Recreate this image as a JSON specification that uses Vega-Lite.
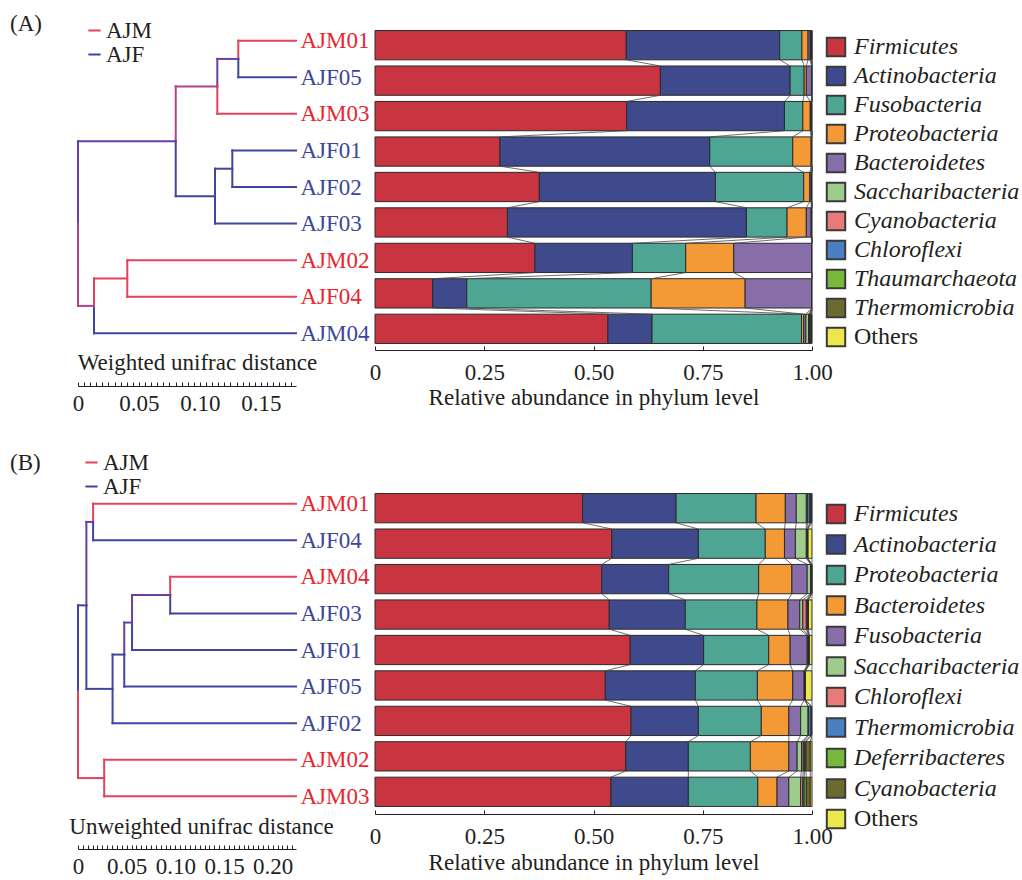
{
  "$schema": "https://vega.github.io/schema/vega-lite/v6.json",
  "padding": {"left": 10, "top": 13, "right": 2, "bottom": 2},
  "background": "white",
  "config": {
    "font": "Liberation Serif",
    "view": {"stroke": null},
    "axis": {"labelFont": "Liberation Serif", "titleFont": "Liberation Serif", "labelFontSize": 23, "titleFontSize": 23, "titleFontWeight": "normal", "labelColor": "#231f20", "titleColor": "#231f20", "domainColor": "#231f20", "tickColor": "#231f20", "grid": false},
    "legend": {"labelFont": "Liberation Serif", "labelFontSize": 23, "labelColor": "#231f20"},
    "title": {"font": "Liberation Serif", "fontSize": 23, "fontWeight": "normal", "color": "#231f20"}
  },
  "datasets": {
    "abundA": [
      {"sample":"AJM01","order":0,"Firmicutes":0.575,"Actinobacteria":0.351,"Fusobacteria":0.051,"Proteobacteria":0.014,"Bacteroidetes":0.005,"Saccharibacteria":0.001,"Cyanobacteria":0.001,"Chloroflexi":0.001,"Thaumarchaeota":0.0005,"Thermomicrobia":0.0005,"Others":0},
      {"sample":"AJF05","order":1,"Firmicutes":0.653,"Actinobacteria":0.297,"Fusobacteria":0.032,"Proteobacteria":0.005,"Bacteroidetes":0.012,"Saccharibacteria":0.0005,"Cyanobacteria":0.0005,"Chloroflexi":0,"Thaumarchaeota":0,"Thermomicrobia":0,"Others":0},
      {"sample":"AJM03","order":2,"Firmicutes":0.576,"Actinobacteria":0.361,"Fusobacteria":0.042,"Proteobacteria":0.017,"Bacteroidetes":0.002,"Saccharibacteria":0.001,"Cyanobacteria":0.001,"Chloroflexi":0,"Thaumarchaeota":0,"Thermomicrobia":0,"Others":0},
      {"sample":"AJF01","order":3,"Firmicutes":0.286,"Actinobacteria":0.480,"Fusobacteria":0.190,"Proteobacteria":0.042,"Bacteroidetes":0.001,"Saccharibacteria":0.001,"Cyanobacteria":0,"Chloroflexi":0,"Thaumarchaeota":0,"Thermomicrobia":0,"Others":0},
      {"sample":"AJF02","order":4,"Firmicutes":0.376,"Actinobacteria":0.403,"Fusobacteria":0.202,"Proteobacteria":0.014,"Bacteroidetes":0.003,"Saccharibacteria":0.001,"Cyanobacteria":0.001,"Chloroflexi":0,"Thaumarchaeota":0,"Thermomicrobia":0,"Others":0},
      {"sample":"AJF03","order":5,"Firmicutes":0.303,"Actinobacteria":0.547,"Fusobacteria":0.093,"Proteobacteria":0.044,"Bacteroidetes":0.011,"Saccharibacteria":0.001,"Cyanobacteria":0.001,"Chloroflexi":0,"Thaumarchaeota":0,"Thermomicrobia":0,"Others":0},
      {"sample":"AJM02","order":6,"Firmicutes":0.366,"Actinobacteria":0.223,"Fusobacteria":0.122,"Proteobacteria":0.110,"Bacteroidetes":0.178,"Saccharibacteria":0.001,"Cyanobacteria":0,"Chloroflexi":0,"Thaumarchaeota":0,"Thermomicrobia":0,"Others":0},
      {"sample":"AJF04","order":7,"Firmicutes":0.132,"Actinobacteria":0.078,"Fusobacteria":0.422,"Proteobacteria":0.215,"Bacteroidetes":0.152,"Saccharibacteria":0.001,"Cyanobacteria":0,"Chloroflexi":0,"Thaumarchaeota":0,"Thermomicrobia":0,"Others":0},
      {"sample":"AJM04","order":8,"Firmicutes":0.533,"Actinobacteria":0.101,"Fusobacteria":0.342,"Proteobacteria":0.005,"Bacteroidetes":0.005,"Saccharibacteria":0.006,"Cyanobacteria":0.002,"Chloroflexi":0.002,"Thaumarchaeota":0.002,"Thermomicrobia":0.001,"Others":0.001}
    ],
    "abundB": [
      {"sample":"AJM01","order":0,"Firmicutes":0.475,"Actinobacteria":0.214,"Proteobacteria":0.183,"Bacteroidetes":0.067,"Fusobacteria":0.025,"Saccharibacteria":0.023,"Chloroflexi":0.003,"Thermomicrobia":0.005,"Deferribacteres":0.002,"Cyanobacteria":0.002,"Others":0.001},
      {"sample":"AJF04","order":1,"Firmicutes":0.542,"Actinobacteria":0.198,"Proteobacteria":0.153,"Bacteroidetes":0.044,"Fusobacteria":0.025,"Saccharibacteria":0.025,"Chloroflexi":0.001,"Thermomicrobia":0.001,"Deferribacteres":0.001,"Cyanobacteria":0.001,"Others":0.009},
      {"sample":"AJM04","order":2,"Firmicutes":0.519,"Actinobacteria":0.153,"Proteobacteria":0.206,"Bacteroidetes":0.076,"Fusobacteria":0.035,"Saccharibacteria":0.008,"Chloroflexi":0.001,"Thermomicrobia":0.001,"Deferribacteres":0.0005,"Cyanobacteria":0.0005,"Others":0},
      {"sample":"AJF03","order":3,"Firmicutes":0.536,"Actinobacteria":0.174,"Proteobacteria":0.164,"Bacteroidetes":0.071,"Fusobacteria":0.027,"Saccharibacteria":0.007,"Chloroflexi":0.008,"Thermomicrobia":0.002,"Deferribacteres":0.001,"Cyanobacteria":0.002,"Others":0.008},
      {"sample":"AJF01","order":4,"Firmicutes":0.584,"Actinobacteria":0.168,"Proteobacteria":0.149,"Bacteroidetes":0.049,"Fusobacteria":0.039,"Saccharibacteria":0.002,"Chloroflexi":0.001,"Thermomicrobia":0.001,"Deferribacteres":0.0005,"Cyanobacteria":0.0005,"Others":0.006},
      {"sample":"AJF05","order":5,"Firmicutes":0.527,"Actinobacteria":0.206,"Proteobacteria":0.142,"Bacteroidetes":0.081,"Fusobacteria":0.026,"Saccharibacteria":0.001,"Chloroflexi":0.0005,"Thermomicrobia":0.0005,"Deferribacteres":0.0005,"Cyanobacteria":0.0005,"Others":0.015},
      {"sample":"AJF02","order":6,"Firmicutes":0.586,"Actinobacteria":0.154,"Proteobacteria":0.144,"Bacteroidetes":0.063,"Fusobacteria":0.027,"Saccharibacteria":0.017,"Chloroflexi":0.001,"Thermomicrobia":0.006,"Deferribacteres":0.0005,"Cyanobacteria":0.0005,"Others":0.001},
      {"sample":"AJM02","order":7,"Firmicutes":0.574,"Actinobacteria":0.143,"Proteobacteria":0.142,"Bacteroidetes":0.088,"Fusobacteria":0.019,"Saccharibacteria":0.010,"Chloroflexi":0.004,"Thermomicrobia":0.003,"Deferribacteres":0.003,"Cyanobacteria":0.010,"Others":0.004},
      {"sample":"AJM03","order":8,"Firmicutes":0.540,"Actinobacteria":0.177,"Proteobacteria":0.159,"Bacteroidetes":0.044,"Fusobacteria":0.027,"Saccharibacteria":0.027,"Chloroflexi":0.005,"Thermomicrobia":0.003,"Deferribacteres":0.005,"Cyanobacteria":0.009,"Others":0.004}
    ],
    "treeA": [
      {"d0":0.1314,"d1":0.1787,"p0":0,"p1":0,"group":"AJM"},
      {"d0":0.1314,"d1":0.1787,"p0":1,"p1":1,"group":"AJF"},
      {"d0":0.1142,"d1":0.1787,"p0":2,"p1":2,"group":"AJM"},
      {"d0":0.1265,"d1":0.1787,"p0":3,"p1":3,"group":"AJF"},
      {"d0":0.1265,"d1":0.1787,"p0":4,"p1":4,"group":"AJF"},
      {"d0":0.1123,"d1":0.1787,"p0":5,"p1":5,"group":"AJF"},
      {"d0":0.0404,"d1":0.1787,"p0":6,"p1":6,"group":"AJM"},
      {"d0":0.0404,"d1":0.1787,"p0":7,"p1":7,"group":"AJM"},
      {"d0":0.0131,"d1":0.1787,"p0":8,"p1":8,"group":"AJF"},
      {"d0":0.1314,"d1":0.1314,"p0":0,"p1":0.5,"group":"AJM"},
      {"d0":0.1314,"d1":0.1314,"p0":0.5,"p1":1,"group":"AJF"},
      {"d0":0.1142,"d1":0.1314,"p0":0.5,"p1":0.5,"group":"mixB"},
      {"d0":0.1142,"d1":0.1142,"p0":0.5,"p1":1.25,"group":"mixB"},
      {"d0":0.1142,"d1":0.1142,"p0":1.25,"p1":2,"group":"AJM"},
      {"d0":0.1265,"d1":0.1265,"p0":3,"p1":4,"group":"AJF"},
      {"d0":0.1123,"d1":0.1265,"p0":3.5,"p1":3.5,"group":"AJF"},
      {"d0":0.1123,"d1":0.1123,"p0":3.5,"p1":5,"group":"AJF"},
      {"d0":0.0801,"d1":0.1142,"p0":1.25,"p1":1.25,"group":"mixR"},
      {"d0":0.0801,"d1":0.1123,"p0":4.25,"p1":4.25,"group":"AJF"},
      {"d0":0.0801,"d1":0.0801,"p0":1.25,"p1":2.75,"group":"mixR"},
      {"d0":0.0801,"d1":0.0801,"p0":2.75,"p1":4.25,"group":"AJF"},
      {"d0":0.0404,"d1":0.0404,"p0":6,"p1":7,"group":"AJM"},
      {"d0":0.0131,"d1":0.0404,"p0":6.5,"p1":6.5,"group":"AJM"},
      {"d0":0.0131,"d1":0.0131,"p0":6.5,"p1":7.25,"group":"AJM"},
      {"d0":0.0131,"d1":0.0131,"p0":7.25,"p1":8,"group":"AJF"},
      {"d0":0,"d1":0.0801,"p0":2.75,"p1":2.75,"group":"mixB"},
      {"d0":0,"d1":0.0131,"p0":7.25,"p1":7.25,"group":"mixR"},
      {"d0":0,"d1":0,"p0":2.75,"p1":5,"group":"mixB"},
      {"d0":0,"d1":0,"p0":5,"p1":7.25,"group":"mixR"}
    ],
    "treeB": [
      {"d0":0.0155,"d1":0.2239,"p0":0,"p1":0,"group":"AJM"},
      {"d0":0.0155,"d1":0.2239,"p0":1,"p1":1,"group":"AJF"},
      {"d0":0.0947,"d1":0.2239,"p0":2,"p1":2,"group":"AJM"},
      {"d0":0.0947,"d1":0.2239,"p0":3,"p1":3,"group":"AJF"},
      {"d0":0.0555,"d1":0.2239,"p0":4,"p1":4,"group":"AJF"},
      {"d0":0.0475,"d1":0.2239,"p0":5,"p1":5,"group":"AJF"},
      {"d0":0.0355,"d1":0.2239,"p0":6,"p1":6,"group":"AJF"},
      {"d0":0.0269,"d1":0.2239,"p0":7,"p1":7,"group":"AJM"},
      {"d0":0.0269,"d1":0.2239,"p0":8,"p1":8,"group":"AJM"},
      {"d0":0.0155,"d1":0.0155,"p0":0,"p1":0.5,"group":"AJM"},
      {"d0":0.0155,"d1":0.0155,"p0":0.5,"p1":1,"group":"AJF"},
      {"d0":0.0086,"d1":0.0155,"p0":0.5,"p1":0.5,"group":"mixB"},
      {"d0":0.0947,"d1":0.0947,"p0":2,"p1":2.5,"group":"AJM"},
      {"d0":0.0947,"d1":0.0947,"p0":2.5,"p1":3,"group":"AJF"},
      {"d0":0.0555,"d1":0.0947,"p0":2.5,"p1":2.5,"group":"mixB"},
      {"d0":0.0555,"d1":0.0555,"p0":2.5,"p1":3.25,"group":"mixB"},
      {"d0":0.0555,"d1":0.0555,"p0":3.25,"p1":4,"group":"AJF"},
      {"d0":0.0475,"d1":0.0555,"p0":3.25,"p1":3.25,"group":"mixB"},
      {"d0":0.0475,"d1":0.0475,"p0":3.25,"p1":4.125,"group":"mixB"},
      {"d0":0.0475,"d1":0.0475,"p0":4.125,"p1":5,"group":"AJF"},
      {"d0":0.0355,"d1":0.0475,"p0":4.125,"p1":4.125,"group":"AJF"},
      {"d0":0.0355,"d1":0.0355,"p0":4.125,"p1":6,"group":"AJF"},
      {"d0":0.0086,"d1":0.0355,"p0":5.0625,"p1":5.0625,"group":"AJF"},
      {"d0":0.0086,"d1":0.0086,"p0":0.5,"p1":2.78,"group":"mixB"},
      {"d0":0.0086,"d1":0.0086,"p0":2.78,"p1":5.0625,"group":"AJF"},
      {"d0":0,"d1":0.0086,"p0":2.78,"p1":2.78,"group":"AJF"},
      {"d0":0.0269,"d1":0.0269,"p0":7,"p1":8,"group":"AJM"},
      {"d0":0,"d1":0.0269,"p0":7.5,"p1":7.5,"group":"AJM"},
      {"d0":0,"d1":0,"p0":2.78,"p1":5.14,"group":"AJF"},
      {"d0":0,"d1":0,"p0":5.14,"p1":7.5,"group":"AJM"}
    ]
  },
  "bounds": "flush",
  "spacing": 463,
  "resolve": {"scale": {"color": "independent", "x": "independent", "y": "independent"}, "legend": {"color": "independent"}},
  "vconcat": [
    {
      "bounds": "flush",
      "spacing": 79,
      "resolve": {"scale": {"color": "independent", "x": "independent", "y": "independent"}, "legend": {"color": "independent"}},
      "hconcat": [
        {
          "width": 218, "height": 322,
          "title": {"text": "(A)", "anchor": "start", "frame": "group", "dx": -68, "dy": 17, "offset": 0},
          "data": {"name": "treeA"},
          "mark": {"type": "rule", "strokeWidth": 2, "strokeCap": "square"},
          "encoding": {
            "x": {"field": "d0", "type": "quantitative", "scale": {"domain": [0, 0.1787], "nice": false, "zero": false},
              "axis": {"orient": "bottom", "offset": 38, "tickCount": 36, "tickSize": -4, "labelOverlap": false, "labelFlush": false, "labelPadding": 10,
                "labelExpr": "abs(datum.value * 20 - round(datum.value * 20)) < 0.001 ? (datum.value == 0 ? '0' : format(datum.value, '.2f')) : ''",
                "title": "Weighted unifrac distance", "titleY": -24, "titleX": 119, "titleBaseline": "middle", "titleAlign": "center"}},
            "x2": {"field": "d1"},
            "y": {"field": "p0", "type": "quantitative", "scale": {"domain": [-0.4, 8.4], "reverse": true, "nice": false, "zero": false},
              "axis": {"orient": "right", "values": [0,1,2,3,4,5,6,7,8], "domain": false, "ticks": false, "labelPadding": 4, "labelAlign": "left", "labelBaseline": "middle", "title": null,
                "labelExpr": "['AJM01','AJF05','AJM03','AJF01','AJF02','AJF03','AJM02','AJF04','AJM04'][datum.value]",
                "labelColor": {"condition": {"test": "indexof([0,2,6,7], datum.value) >= 0", "value": "#e8262e"}, "value": "#3c479b"}}},
            "y2": {"field": "p1"},
            "color": {"field": "group", "type": "nominal",
              "scale": {"domain": ["AJM", "AJF", "mixR", "mixB"], "range": ["#e2425a", "#3f45a0", "#b0448c", "#6a3fa0"]},
              "legend": {"orient": "none", "legendX": 5, "legendY": -7, "values": ["AJM", "AJF"], "title": null, "symbolType": "stroke", "symbolSize": 150, "symbolStrokeWidth": 2, "labelOffset": 0, "rowPadding": -2, "padding": 0}}
          }
        },
        {
          "width": 437, "height": 322,
          "data": {"name": "abundA"},
          "transform": [
            {"fold": ["Firmicutes","Actinobacteria","Fusobacteria","Proteobacteria","Bacteroidetes","Saccharibacteria","Cyanobacteria","Chloroflexi","Thaumarchaeota","Thermomicrobia","Others"], "as": ["phylum", "value"]},
            {"stack": "value", "groupby": ["sample"], "as": ["c0", "c1"]}
          ],
          "layer": [
            {
              "transform": [{"filter": "datum.value > 0"}],
              "mark": {"type": "bar", "orient": "horizontal", "size": 29.3, "stroke": "#2b2b2b", "strokeWidth": 1},
              "encoding": {
                "x": {"field": "c0", "type": "quantitative", "scale": {"domain": [0, 1], "nice": false},
                  "axis": {"values": [0, 0.25, 0.5, 0.75, 1], "offset": 2, "labelExpr": "datum.value == 0 ? '0' : format(datum.value, '.2f')", "tickSize": -4, "labelPadding": 15, "labelFlush": false, "labelOverlap": false, "title": "Relative abundance in phylum level", "titlePadding": 2}},
                "x2": {"field": "c1"},
                "y": {"field": "order", "type": "quantitative", "scale": {"domain": [-0.4, 8.4], "reverse": true, "nice": false, "zero": false}, "axis": null},
                "color": {"field": "phylum", "type": "nominal",
                  "scale": {"domain": ["Firmicutes","Actinobacteria","Fusobacteria","Proteobacteria","Bacteroidetes","Saccharibacteria","Cyanobacteria","Chloroflexi","Thaumarchaeota","Thermomicrobia","Others"],
                    "range": ["#c8343f","#3f4a8c","#4fa594","#f39a36","#886ea8","#9dcc8d","#e87a7b","#4a7fc1","#78b93c","#6d6a30","#eae84c"]},
                  "legend": {"orient": "none", "legendX": 449, "legendY": 9, "title": null, "symbolType": "square", "symbolSize": 340, "symbolStrokeColor": "#3a3a3a", "symbolStrokeWidth": 2, "labelFontStyle": "italic", "labelFontSize": 24, "labelOffset": 6, "rowPadding": 1, "padding": 0, "labelLimit": 300,
                    "encode": {"labels": {"update": {"fontStyle": {"signal": "datum.label === 'Others' ? 'normal' : 'italic'"}}}}}}
              }
            },
            {
              "transform": [
                {"window": [{"op": "lead", "field": "c1", "as": "n1"}, {"op": "lead", "field": "order", "as": "norder"}], "groupby": ["phylum"], "sort": [{"field": "order", "order": "ascending"}]},
                {"filter": "datum.norder != null"}
              ],
              "mark": {"type": "rule", "color": "#4a4a4a", "strokeWidth": 0.8, "yOffset": 14.65, "y2Offset": -14.65},
              "encoding": {
                "x": {"field": "c1", "type": "quantitative"},
                "x2": {"field": "n1"},
                "y": {"field": "order", "type": "quantitative"},
                "y2": {"field": "norder"}
              }
            }
          ]
        }
      ]
    },
    {
      "bounds": "flush",
      "spacing": 79,
      "resolve": {"scale": {"color": "independent", "x": "independent", "y": "independent"}, "legend": {"color": "independent"}},
      "hconcat": [
        {
          "width": 218, "height": 322,
          "title": {"text": "(B)", "anchor": "start", "frame": "group", "dx": -68, "dy": 24, "offset": 0},
          "data": {"name": "treeB"},
          "mark": {"type": "rule", "strokeWidth": 2, "strokeCap": "square"},
          "encoding": {
            "x": {"field": "d0", "type": "quantitative", "scale": {"domain": [0, 0.2239], "nice": false, "zero": false},
              "axis": {"orient": "bottom", "offset": 38, "tickCount": 45, "tickSize": -4, "labelOverlap": false, "labelFlush": false, "labelPadding": 10,
                "labelExpr": "abs(datum.value * 20 - round(datum.value * 20)) < 0.001 ? (datum.value == 0 ? '0' : format(datum.value, '.2f')) : ''",
                "title": "Unweighted unifrac distance", "titleY": -23, "titleX": 123, "titleBaseline": "middle", "titleAlign": "center"}},
            "x2": {"field": "d1"},
            "y": {"field": "p0", "type": "quantitative", "scale": {"domain": [-0.4, 8.4], "reverse": true, "nice": false, "zero": false},
              "axis": {"orient": "right", "values": [0,1,2,3,4,5,6,7,8], "domain": false, "ticks": false, "labelPadding": 4, "labelAlign": "left", "labelBaseline": "middle", "title": null,
                "labelExpr": "['AJM01','AJF04','AJM04','AJF03','AJF01','AJF05','AJF02','AJM02','AJM03'][datum.value]",
                "labelColor": {"condition": {"test": "indexof([0,2,7,8], datum.value) >= 0", "value": "#e8262e"}, "value": "#3c479b"}}},
            "y2": {"field": "p1"},
            "color": {"field": "group", "type": "nominal",
              "scale": {"domain": ["AJM", "AJF", "mixR", "mixB"], "range": ["#e2425a", "#3f45a0", "#b0448c", "#6a3fa0"]},
              "legend": {"orient": "none", "legendX": 2, "legendY": -38, "values": ["AJM", "AJF"], "title": null, "symbolType": "stroke", "symbolSize": 150, "symbolStrokeWidth": 2, "labelOffset": 0, "rowPadding": -2, "padding": 0}}
          }
        },
        {
          "width": 437, "height": 322,
          "data": {"name": "abundB"},
          "transform": [
            {"fold": ["Firmicutes","Actinobacteria","Proteobacteria","Bacteroidetes","Fusobacteria","Saccharibacteria","Chloroflexi","Thermomicrobia","Deferribacteres","Cyanobacteria","Others"], "as": ["phylum", "value"]},
            {"stack": "value", "groupby": ["sample"], "as": ["c0", "c1"]}
          ],
          "layer": [
            {
              "transform": [{"filter": "datum.value > 0"}],
              "mark": {"type": "bar", "orient": "horizontal", "size": 29.3, "stroke": "#2b2b2b", "strokeWidth": 1},
              "encoding": {
                "x": {"field": "c0", "type": "quantitative", "scale": {"domain": [0, 1], "nice": false},
                  "axis": {"values": [0, 0.25, 0.5, 0.75, 1], "offset": 3, "labelExpr": "datum.value == 0 ? '0' : format(datum.value, '.2f')", "tickSize": -4, "labelPadding": 15, "labelFlush": false, "labelOverlap": false, "title": "Relative abundance in phylum level", "titlePadding": 3}},
                "x2": {"field": "c1"},
                "y": {"field": "order", "type": "quantitative", "scale": {"domain": [-0.4, 8.4], "reverse": true, "nice": false, "zero": false}, "axis": null},
                "color": {"field": "phylum", "type": "nominal",
                  "scale": {"domain": ["Firmicutes","Actinobacteria","Proteobacteria","Bacteroidetes","Fusobacteria","Saccharibacteria","Chloroflexi","Thermomicrobia","Deferribacteres","Cyanobacteria","Others"],
                    "range": ["#c8343f","#3f4a8c","#4fa594","#f39a36","#886ea8","#9dcc8d","#e87a7b","#4a7fc1","#78b93c","#6d6a30","#eae84c"]},
                  "legend": {"orient": "none", "legendX": 449, "legendY": 13, "title": null, "symbolType": "square", "symbolSize": 340, "symbolStrokeColor": "#3a3a3a", "symbolStrokeWidth": 2, "labelFontStyle": "italic", "labelFontSize": 24, "labelOffset": 6, "rowPadding": 2.5, "padding": 0, "labelLimit": 300,
                    "encode": {"labels": {"update": {"fontStyle": {"signal": "datum.label === 'Others' ? 'normal' : 'italic'"}}}}}}
              }
            },
            {
              "transform": [
                {"window": [{"op": "lead", "field": "c1", "as": "n1"}, {"op": "lead", "field": "order", "as": "norder"}], "groupby": ["phylum"], "sort": [{"field": "order", "order": "ascending"}]},
                {"filter": "datum.norder != null"}
              ],
              "mark": {"type": "rule", "color": "#4a4a4a", "strokeWidth": 0.8, "yOffset": 14.65, "y2Offset": -14.65},
              "encoding": {
                "x": {"field": "c1", "type": "quantitative"},
                "x2": {"field": "n1"},
                "y": {"field": "order", "type": "quantitative"},
                "y2": {"field": "norder"}
              }
            }
          ]
        }
      ]
    }
  ]
}
